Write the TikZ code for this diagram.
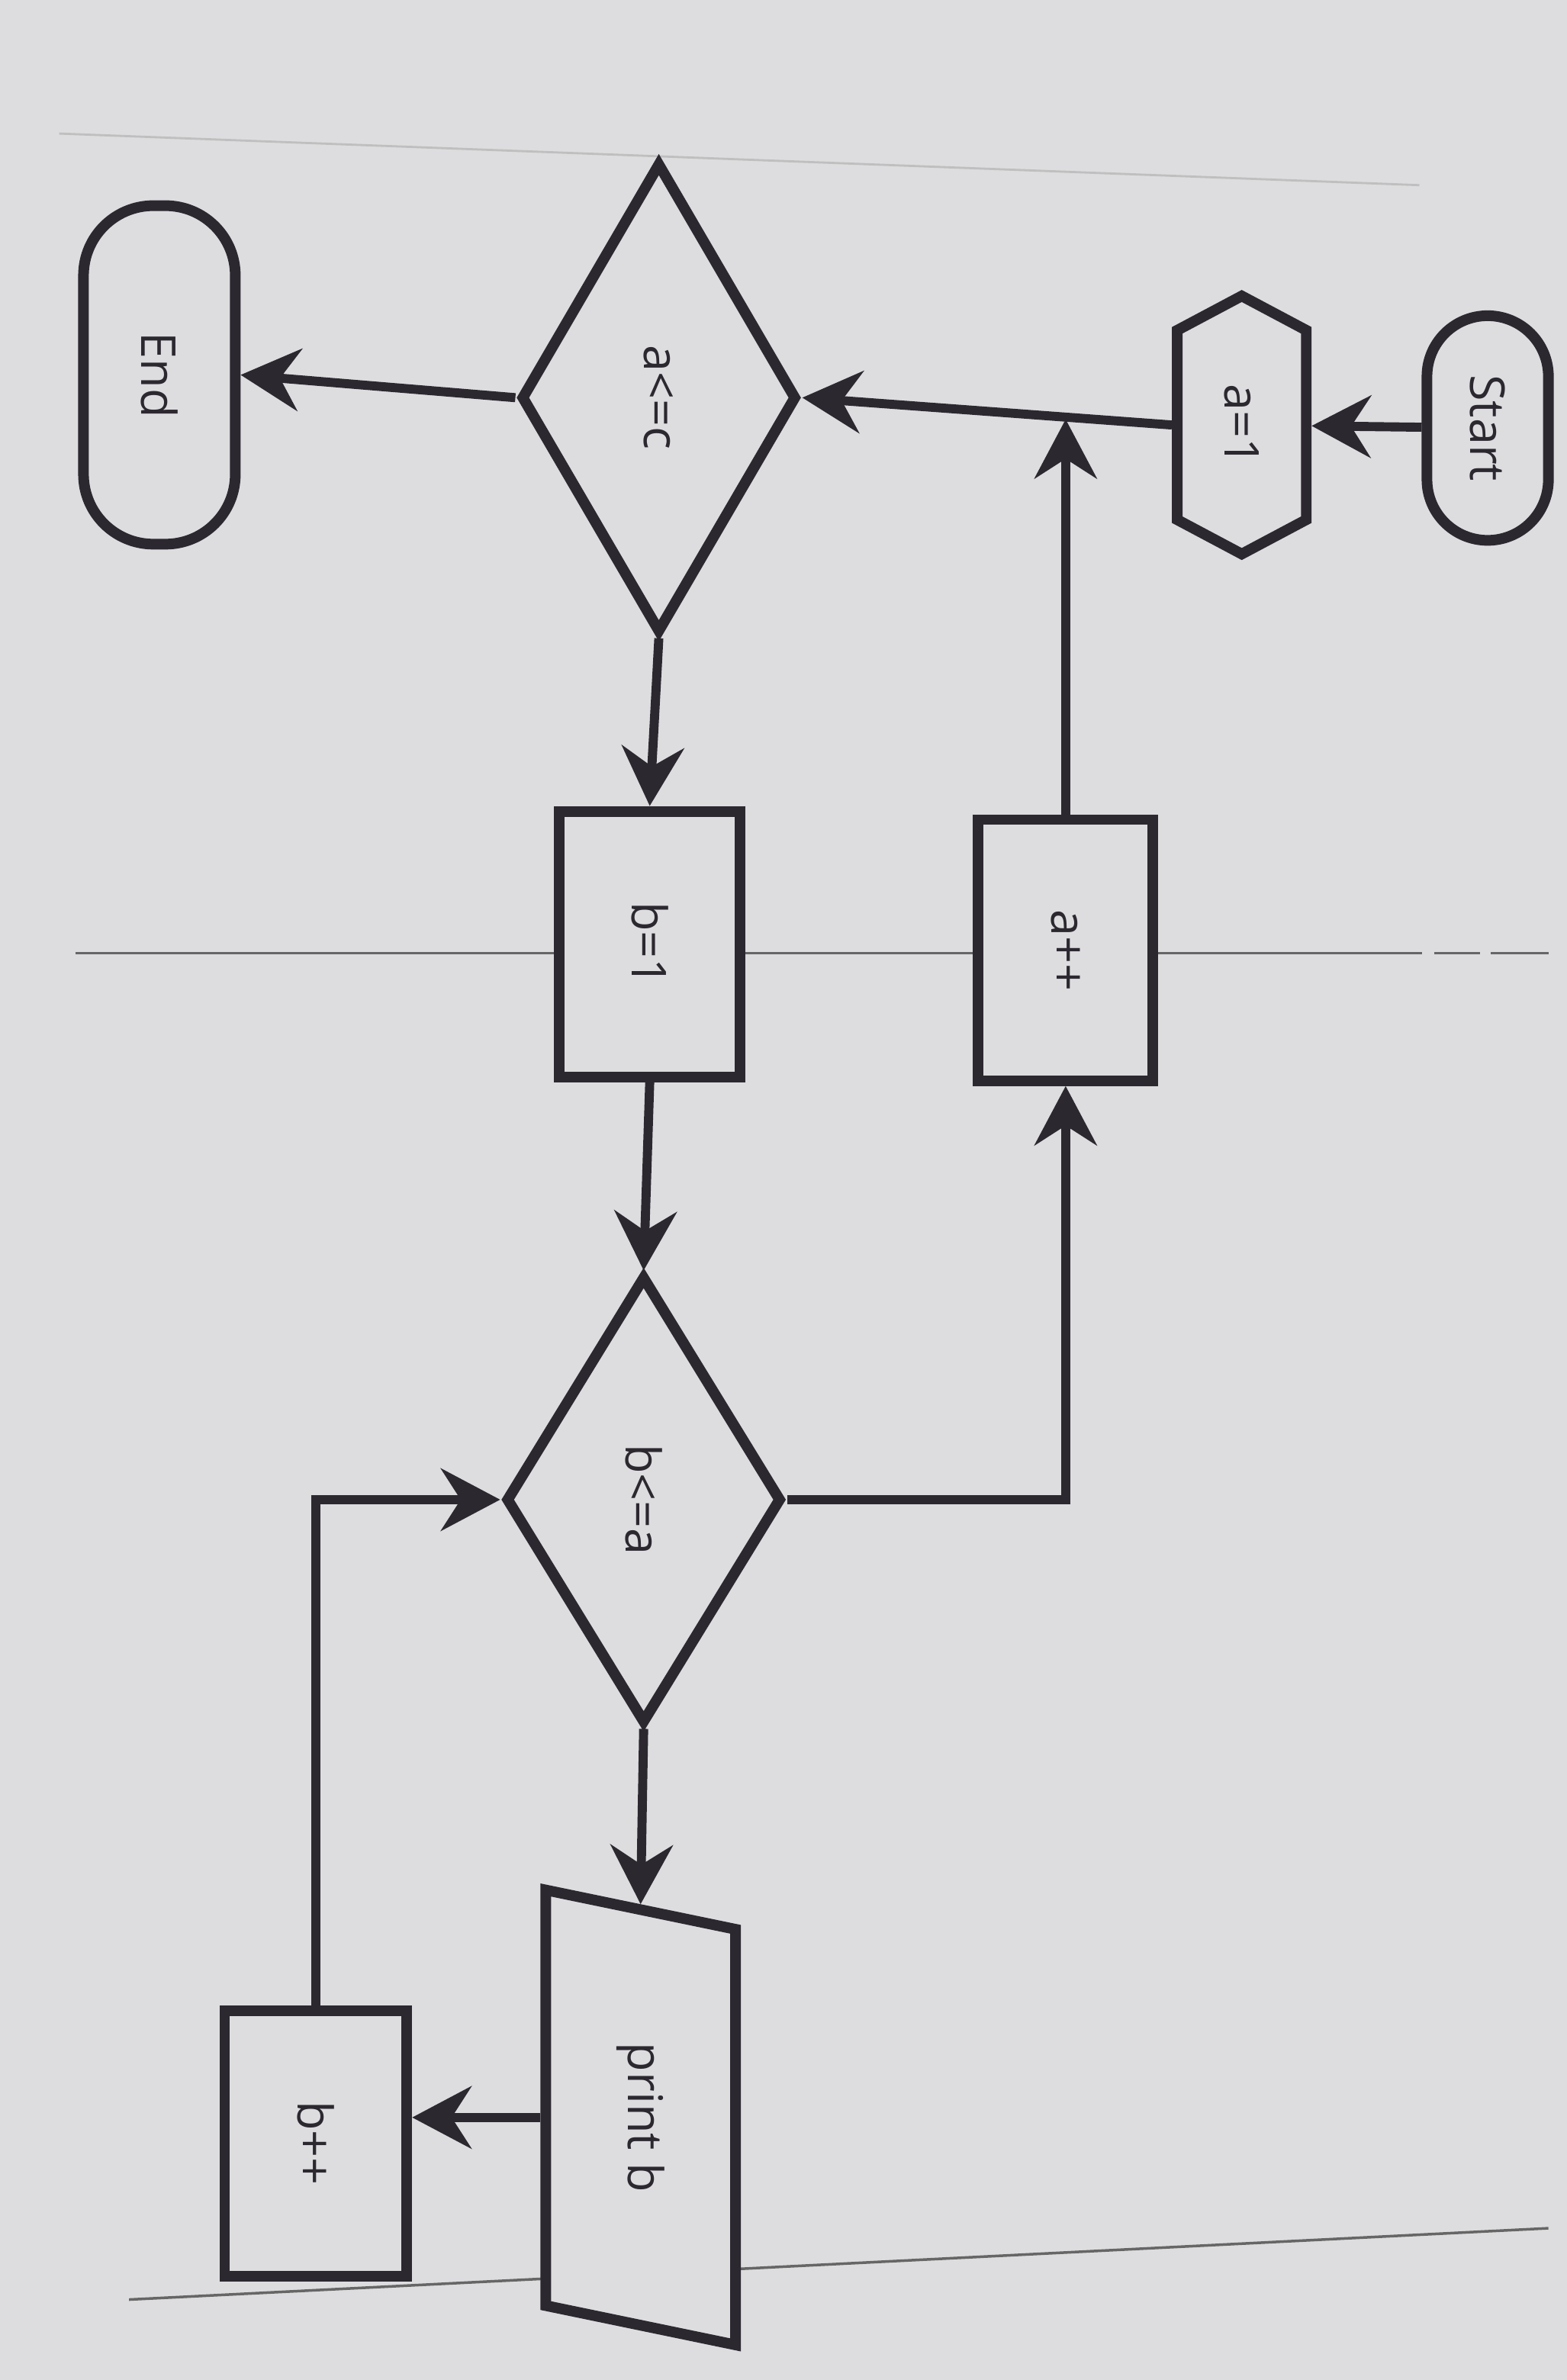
\documentclass[tikz,border=0pt]{standalone}
\usepackage{fontspec}
\setmainfont{Open Sans}
\usetikzlibrary{arrows.meta,shapes.geometric,shapes.symbols,calc}
\definecolor{paper}{RGB}{221,221,223}
\definecolor{ink}{RGB}{44,40,48}

\begin{document}
\begin{tikzpicture}[
    shp/.style={draw=ink,line width=2pt,fill=paper,inner sep=0pt,text=ink,font=\fontsize{9}{11}\selectfont},
    term/.style={shp,rectangle,rounded corners=4mm},
    proc/.style={shp,rectangle},
    prep/.style={shp,signal,signal to=east and west,signal pointer angle=124},
    dec/.style={shp,diamond},
    io/.style={shp,trapezium,trapezium left angle=72,trapezium right angle=108,trapezium stretches=true},
    flow/.style={draw=ink,line width=1.7pt,-{Stealth[length=3.9mm,width=4.1mm,inset=1.3mm]}},
    pageline/.style={draw=black!60,line width=0.5pt}
  ]
  \begin{scope}[rotate=-90,transform shape]
    \path[fill=paper,use as bounding box] (0,0) rectangle (15.68,10.32);

    \draw[pageline,black!25,line width=0.4pt] (0.88,0.39) -- (1.22,9.35);
    \draw[pageline] (6.28,0.50) -- (6.28,9.37);
    \draw[pageline] (6.28,9.45) -- (6.28,9.75);
    \draw[pageline] (6.28,9.82) -- (6.28,10.20);
    \draw[pageline] (15.15,0.85) -- (14.68,10.20);

    \node[term,minimum width=1.48cm,minimum height=0.80cm] (start) at (2.82,9.80) {Start};
    \node[prep,minimum width=1.70cm,minimum height=0.85cm] (aone) at (2.80,8.18) {a=1};
    \node[dec,minimum width=3.10cm,minimum height=1.82cm] (alec) at (2.62,4.34) {a<=c};
    \node[term,rounded corners=4.6mm,minimum width=2.23cm,minimum height=1.00cm] (stop) at (2.47,1.05) {End};
    \node[proc,minimum width=1.75cm,minimum height=1.19cm] (bone) at (6.22,4.28) {b=1};
    \node[proc,minimum width=1.72cm,minimum height=1.15cm] (ainc) at (6.26,7.02) {a++};
    \node[dec,minimum width=2.95cm,minimum height=1.82cm] (blea) at (9.88,4.24) {b<=a};
    \node[io,minimum width=3.00cm,minimum height=1.25cm] (prt) at (13.95,4.22) {print b};
    \node[proc,minimum width=1.75cm,minimum height=1.20cm] (binc) at (14.12,2.08) {b++};

    \coordinate (merge) at ($(aone.south)!(ainc.west)!(alec.north)$);

    \draw[flow] (start) -- (aone);
    \draw[flow] (aone.south) -- (alec.north);
    \draw[flow] (alec.south) -- (stop.north);
    \draw[flow] (alec.east) -- (bone.west);
    \draw[flow] (bone.east) -- (blea.west);
    \draw[flow] (blea.north) |- (ainc.east);
    \draw[flow] (ainc.west) -- (ainc.west -| merge);
    \draw[flow] (blea.east) -- (prt.west);
    \draw[flow] (prt.south) -- (prt.south |- binc.north);
    \draw[flow] (binc.west) -| (blea.south);
  \end{scope}
\end{tikzpicture}
\end{document}
